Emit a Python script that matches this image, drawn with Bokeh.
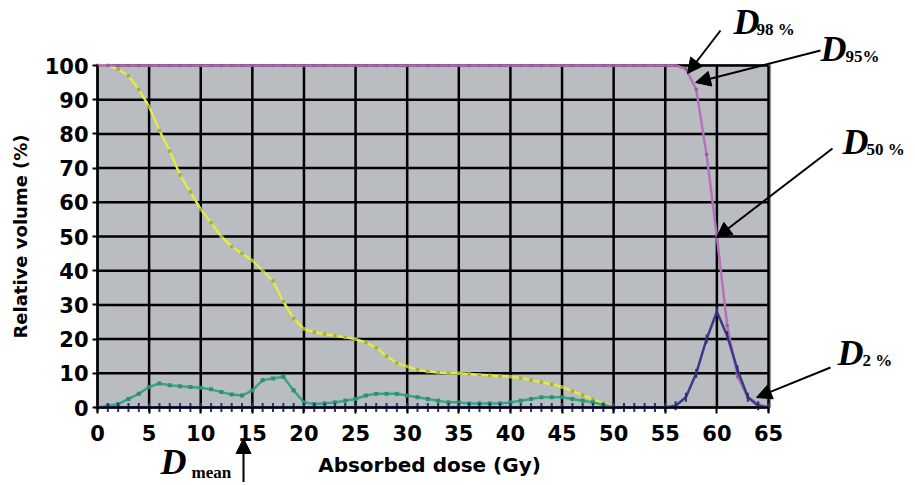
from bokeh.plotting import figure
from bokeh.models import Range1d, Label, Arrow, NormalHead, FixedTicker
from bokeh.embed import file_html
from bokeh.resources import INLINE
import math

# ---------------- data ----------------
dose = list(range(0, 66))  # Gy, sampled every 1 Gy

organ_a = [100, 100, 99, 97, 93, 88, 81, 75, 68, 63,
           58, 54, 50, 47, 45, 43, 40, 37, 31, 26,
           23, 22, 21.5, 21, 20.5, 20, 19, 17.5, 15, 13,
           12, 11, 10.5, 10.2, 10, 10, 9.8, 9.6, 9.4, 9.2,
           9, 8.6, 8, 7.4, 6.8, 6, 4.8, 3.6, 2.4, 1.2,
           0, 0, 0, 0, 0, 0, 0, 0, 0, 0,
           0, 0, 0, 0, 0, 0]

organ_b = [0, 0.5, 1, 2.5, 4, 6, 7, 6.5, 6.2, 6,
           5.8, 5.3, 4.5, 3.8, 3.5, 5, 8, 8.5, 9, 5,
           1.5, 1, 1.2, 1.5, 2, 2.5, 3.5, 4, 4, 4,
           3.5, 3, 2.5, 2, 1.5, 1.5, 1.2, 1.2, 1.2, 1.2,
           1.5, 2, 2.5, 3, 3, 3, 2.5, 2, 1.5, 0.8,
           0, 0, 0, 0, 0, 0, 0, 0, 0, 0,
           0, 0, 0, 0, 0, 0]

ptv_cum = [100, 100, 100, 100, 100, 100, 100, 100, 100, 100,
           100, 100, 100, 100, 100, 100, 100, 100, 100, 100,
           100, 100, 100, 100, 100, 100, 100, 100, 100, 100,
           100, 100, 100, 100, 100, 100, 100, 100, 100, 100,
           100, 100, 100, 100, 100, 100, 100, 100, 100, 100,
           100, 100, 100, 100, 100, 100, 100, 99, 93, 74,
           50, 24, 9, 3, 1, 0]

ptv_diff = [0, 0, 0, 0, 0, 0, 0, 0, 0, 0,
            0, 0, 0, 0, 0, 0, 0, 0, 0, 0,
            0, 0, 0, 0, 0, 0, 0, 0, 0, 0,
            0, 0, 0, 0, 0, 0, 0, 0, 0, 0,
            0, 0, 0, 0, 0, 0, 0, 0, 0, 0,
            0, 0, 0, 0, 0, 0, 0.5, 3, 10, 20,
            28, 21, 11, 3, 0.5, 0]

x_ticks = [0, 5, 10, 15, 20, 25, 30, 35, 40, 45, 50, 55, 60, 65]
y_ticks = [0, 10, 20, 30, 40, 50, 60, 70, 80, 90, 100]

# ---------------- layout: frame spans the whole canvas ----------------
W, H = 910, 482
PX_X0, PX_X65 = 97, 768      # canvas x of dose 0 and 65
PX_Y0, PX_Y100 = 407, 65     # canvas y of volume 0 and 100
SX = (PX_X65 - PX_X0) / 65.0
SY = (PX_Y0 - PX_Y100) / 100.0

p = figure(width=W, height=H,
           x_range=Range1d(-PX_X0 / SX, (W - PX_X0) / SX),
           y_range=Range1d(-(H - PX_Y0) / SY, PX_Y0 / SY),
           output_backend="svg", toolbar_location=None,
           min_border=0, min_border_left=0, min_border_right=0,
           min_border_top=0, min_border_bottom=0)
p.title.visible = False
p.background_fill_color = "white"
p.border_fill_color = "white"
p.outline_line_color = None
p.xgrid.visible = False
p.ygrid.visible = False

x_lo, x_hi = x_ticks[0], x_ticks[-1]
y_lo, y_hi = y_ticks[0], y_ticks[-1]

# plot area
p.quad(left=[x_lo], right=[x_hi + 0.2], bottom=[y_lo], top=[y_hi + 0.3],
       fill_color="#b9bcc0", line_color="#8d9094", line_width=1)

# grid lines (at tick positions)
p.segment(x0=x_ticks, y0=[y_lo] * len(x_ticks), x1=x_ticks, y1=[y_hi] * len(x_ticks),
          line_color="black", line_width=2.5)
p.segment(x0=[x_lo] * len(y_ticks), y0=y_ticks, x1=[x_hi] * len(y_ticks), y1=y_ticks,
          line_color="black", line_width=2.5)

# axes drawn at the data origin
p.xaxis.fixed_location = 0
p.yaxis.fixed_location = 0
p.xaxis.bounds = (x_lo, x_hi)
p.yaxis.bounds = (y_lo, y_hi)
p.xaxis.ticker = FixedTicker(ticks=x_ticks)
p.yaxis.ticker = FixedTicker(ticks=y_ticks)
for ax in (p.xaxis, p.yaxis):
    ax.axis_line_color = "black"
    ax.axis_line_width = 2
    ax.major_tick_line_color = "black"
    ax.major_tick_line_width = 2
    ax.major_tick_in = 0
    ax.minor_tick_line_color = None
    ax.major_label_text_font = "DejaVu Sans"
    ax.major_label_text_font_style = "bold"
    ax.major_label_text_color = "black"
    ax.axis_label_text_font = "DejaVu Sans"
    ax.axis_label_text_font_style = "bold"
    ax.axis_label_text_color = "black"

p.xaxis.major_tick_out = 6
p.xaxis.major_label_standoff = 11
p.xaxis.major_label_text_font_size = "21px"
p.xaxis.axis_label = "Absorbed dose  (Gy)"
p.xaxis.axis_label_text_font_size = "20px"
p.xaxis.axis_label_standoff = 9

p.yaxis.major_tick_out = 5
p.yaxis.major_label_standoff = 4
p.yaxis.major_label_text_font_size = "21px"
p.yaxis.axis_label = "Relative volume (%)"
p.yaxis.axis_label_text_font_size = "18px"
p.yaxis.axis_label_standoff = 11

# ---------------- curves ----------------
p.line(dose[:51], organ_a[:51], line_color="#e6e844", line_width=2.5)
p.scatter(dose[:51], organ_a[:51], marker="square", size=3.5,
          fill_color="#9fb04a", line_color=None)

p.line(dose[:51], organ_b[:51], line_color="#3aa585", line_width=2.5)
p.scatter(dose[:51], organ_b[:51], marker="square", size=4,
          fill_color="#2f8f70", line_color=None)

p.line(dose, ptv_cum, line_color="#b572bb", line_width=2.5)
p.scatter(dose, ptv_cum, marker="circle", size=3.5,
          fill_color="#9a58a0", line_color=None)

p.line(dose, ptv_diff, line_color="#3a3a8a", line_width=2.5)
p.scatter(dose, ptv_diff, marker="dash", angle=math.pi / 2, size=9,
          line_color="#2e2e70", line_width=2)

# ---------------- annotations (placed by canvas pixel) ----------------
def ax_x(px):
    return (px - PX_X0) / SX

def ax_y(py):
    return (PX_Y0 - py) / SY

D_SIZE, S_SIZE = 36, 17

def big_d(px, base_y, sub, spx, sub_base_y):
    # baseline correction measured on the rendered page
    p.add_layout(Label(x=ax_x(px), y=ax_y(base_y - 0.42 * D_SIZE), text="D",
                       text_font="Liberation Serif", text_font_style="bold italic",
                       text_font_size=f"{D_SIZE}px", text_color="black",
                       text_baseline="alphabetic", text_align="left"))
    p.add_layout(Label(x=ax_x(spx), y=ax_y(sub_base_y - 0.38 * S_SIZE), text=sub,
                       text_font="Liberation Serif", text_font_style="bold",
                       text_font_size=f"{S_SIZE}px", text_color="black",
                       text_baseline="alphabetic", text_align="left"))

big_d(733, 37, "98 %", 756, 35)
big_d(820, 64, "95%", 845, 62)
big_d(842, 157, "50 %", 866, 155)
big_d(837, 368, "2 %", 862, 366)
big_d(160, 477, "mean", 191, 478)

def arrow(x1, y1, x2, y2):
    p.add_layout(Arrow(x_start=ax_x(x1), y_start=ax_y(y1),
                       x_end=ax_x(x2), y_end=ax_y(y2),
                       line_color="black", line_width=2,
                       end=NormalHead(size=15, fill_color="black",
                                      line_color="black")))

arrow(720, 30, 687, 73)
arrow(820, 50, 695, 82)
arrow(832, 148, 716, 237)
arrow(830, 367, 756, 397)
arrow(243, 482, 243, 438)

open("out.html", "w").write(file_html(p, INLINE))
